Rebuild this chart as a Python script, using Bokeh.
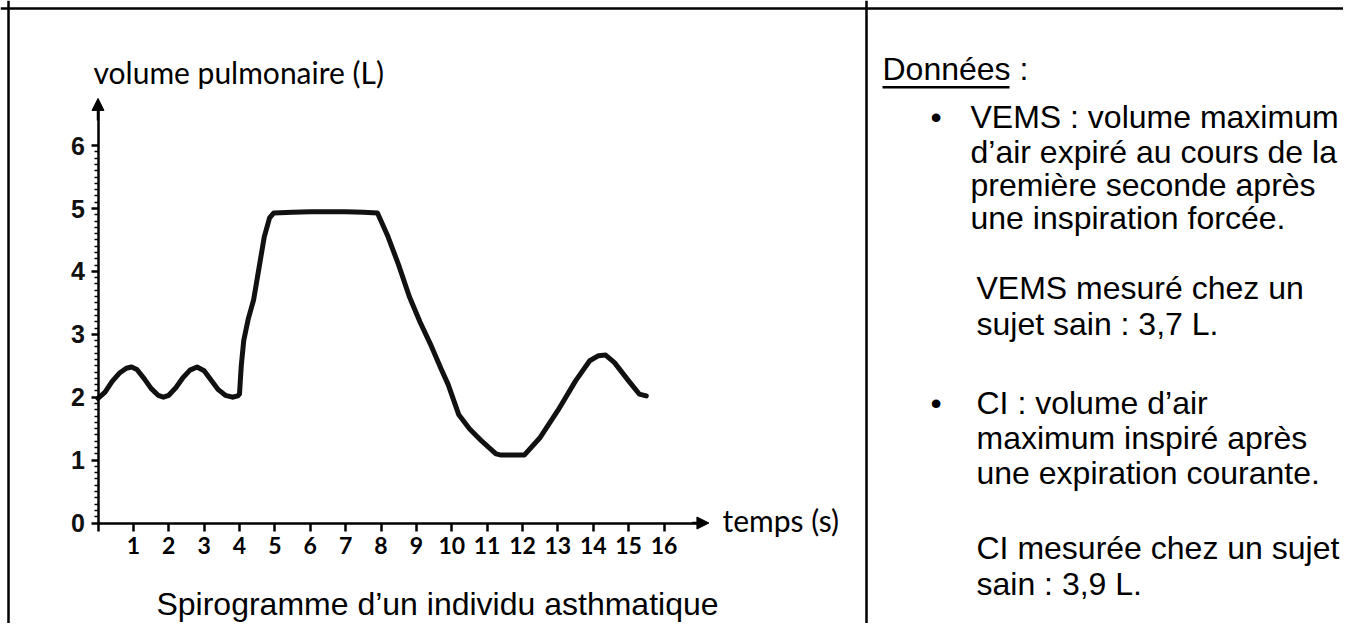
from bokeh.plotting import figure
from bokeh.models import (Range1d, LinearAxis, FixedTicker, Arrow, NormalHead, Label,
                          Span, BoxAnnotation)
from bokeh.embed import file_html
from bokeh.resources import INLINE

# ---------------- data ----------------
temps_s = [0.0, 0.2, 0.4, 0.6, 0.8, 0.95, 1.1, 1.3, 1.5, 1.7, 1.85, 2.0, 2.2, 2.4, 2.6,
           2.8, 3.0, 3.2, 3.4, 3.6, 3.8, 3.95, 4.0, 4.05, 4.12, 4.25, 4.4, 4.55, 4.7,
           4.85, 4.97, 5.5, 6.0, 6.5, 7.0, 7.5, 7.9, 8.2, 8.5, 8.8, 9.1, 9.4, 9.7, 9.9,
           10.2, 10.5, 10.85, 11.25, 11.4, 12.05, 12.5, 13.0, 13.5, 13.9, 14.15, 14.35,
           14.6, 15.0, 15.3, 15.5]
volume_L = [1.98, 2.08, 2.25, 2.38, 2.46, 2.48, 2.44, 2.30, 2.14, 2.03, 2.00, 2.03, 2.15,
            2.31, 2.43, 2.48, 2.42, 2.27, 2.12, 2.03, 2.00, 2.02, 2.05, 2.5, 2.9, 3.25,
            3.55, 4.05, 4.55, 4.85, 4.93, 4.94, 4.95, 4.95, 4.95, 4.94, 4.93, 4.55, 4.1,
            3.6, 3.2, 2.84, 2.45, 2.2, 1.72, 1.5, 1.3, 1.1, 1.08, 1.08, 1.36, 1.79, 2.26,
            2.58, 2.66, 2.67, 2.55, 2.26, 2.05, 2.02]

x_ticks = list(range(0, 17))
y_ticks = list(range(0, 7))
y_minor = [i / 10 for i in range(0, 61) if i % 10 != 0]

y_title = "volume pulmonaire (L)"
x_title = "temps (s)"
caption = "Spirogramme d\u2019un individu asthmatique"
heading = "Donn\u00e9es :"
text_lines = [
    "VEMS : volume maximum",
    "d\u2019air expir\u00e9 au cours de la",
    "premi\u00e8re seconde apr\u00e8s",
    "une inspiration forc\u00e9e.",
    "VEMS mesur\u00e9 chez un",
    "sujet sain : 3,7 L.",
    "CI : volume d\u2019air",
    "maximum inspir\u00e9 apr\u00e8s",
    "une expiration courante.",
    "CI mesur\u00e9e chez un sujet",
    "sain : 3,9 L.",
]

# ---------------- layout (picture pixels) ----------------
W, H = 1343, 623
X0, Y0 = 97.5, 522.5        # picture position of (0 s, 0 L)
SX, SY = 35.375, 62.9       # px per second, px per litre
x_start = -X0 / SX
x_end = x_start + W / SX
y_end = Y0 / SY
y_start = y_end - H / SY
LOFF = 11                   # labels are drawn this much lower than their baseline


def px(xp):
    return x_start + xp / SX


def py(yp):
    return (Y0 - yp) / SY


def pyl(yp):
    return py(yp - LOFF)


p = figure(width=W, height=H, x_range=Range1d(x_start, x_end), y_range=Range1d(y_start, y_end),
           x_axis_type=None, y_axis_type=None, min_border=0, toolbar_location=None,
           output_backend="svg", outline_line_color=None,
           background_fill_color="white", border_fill_color="white")

# axes at the origin
xaxis = LinearAxis(fixed_location=0, bounds=(0, 17.0),
                   ticker=FixedTicker(ticks=x_ticks, minor_ticks=[]),
                   major_label_overrides={0: ""},
                   axis_line_width=2.5, axis_line_color="black",
                   major_tick_line_width=2.5, major_tick_out=8, major_tick_in=0,
                   minor_tick_line_color=None,
                   major_label_text_font="Lato", major_label_text_font_style="bold",
                   major_label_text_font_size="23px", major_label_text_color="black",
                   major_label_standoff=6)
yaxis = LinearAxis(fixed_location=0, bounds=(0, 6.6),
                   ticker=FixedTicker(ticks=y_ticks, minor_ticks=y_minor),
                   axis_line_width=2.5, axis_line_color="black",
                   major_tick_line_width=2.5, major_tick_out=7, major_tick_in=0,
                   minor_tick_line_width=1.5, minor_tick_out=4, minor_tick_in=0,
                   minor_tick_line_color="black",
                   major_label_text_font="Liberation Sans", major_label_text_font_style="bold",
                   major_label_text_font_size="25px", major_label_text_color="#111111",
                   major_label_standoff=6)
p.add_layout(xaxis, "below")
p.add_layout(yaxis, "left")

p.add_layout(Arrow(end=NormalHead(size=12, fill_color="black", line_color="black"),
                   x_start=0, y_start=6.4, x_end=0, y_end=6.75,
                   line_width=2.5, line_color="black"))
p.add_layout(Arrow(end=NormalHead(size=12, fill_color="black", line_color="black"),
                   x_start=16.8, y_start=0, x_end=17.27, y_end=0,
                   line_width=2.5, line_color="black"))

# the spirogram
p.line(temps_s, volume_L, line_width=5, line_color="#111111",
       line_join="round", line_cap="round")

# axis titles
p.add_layout(Label(x=px(93), y=pyl(82), text=y_title, text_font="Lato",
                   text_font_size="30px", text_color="black", text_baseline="alphabetic"))
p.add_layout(Label(x=px(722), y=pyl(530), text=x_title, text_font="Lato",
                   text_font_size="30px", text_color="black", text_baseline="alphabetic"))

# caption (raised a little so that it fits inside the canvas)
p.add_layout(Label(x=px(437), y=pyl(614), text=caption, text_align="center",
                   text_font="Liberation Sans", text_font_size="32px",
                   text_color="black", text_baseline="alphabetic"))

# table borders
p.add_layout(Span(location=py(8), dimension="width", line_width=2.5, line_color="black"))
p.add_layout(Span(location=px(8), dimension="height", line_width=2.5, line_color="black"))
p.add_layout(Span(location=px(866), dimension="height", line_width=2.5, line_color="black"))

# right panel text
FONT = "Liberation Sans"
FS = "32px"
p.add_layout(Label(x=px(882), y=pyl(79), text=heading, text_font=FONT, text_font_size=FS,
                   text_color="black", text_baseline="alphabetic"))
p.add_layout(BoxAnnotation(left=px(882), right=px(1009), top=py(85.5), bottom=py(88),
                           fill_color="black", fill_alpha=1.0, line_color=None))
for yb in (127, 413):
    p.add_layout(Label(x=px(930), y=pyl(yb), text="\u2022", text_font=FONT, text_font_size=FS,
                       text_color="black", text_baseline="alphabetic"))

line_x = [970, 970, 970, 970, 976, 976, 976, 976, 976, 976, 976]
line_y = [127, 162, 195, 228, 298, 334, 413, 448, 483, 558, 594]
for t, xx, yy in zip(text_lines, line_x, line_y):
    p.add_layout(Label(x=px(xx), y=pyl(yy), text=t, text_font=FONT, text_font_size=FS,
                       text_color="black", text_baseline="alphabetic"))

open("out.html", "w").write(file_html(p, INLINE))
